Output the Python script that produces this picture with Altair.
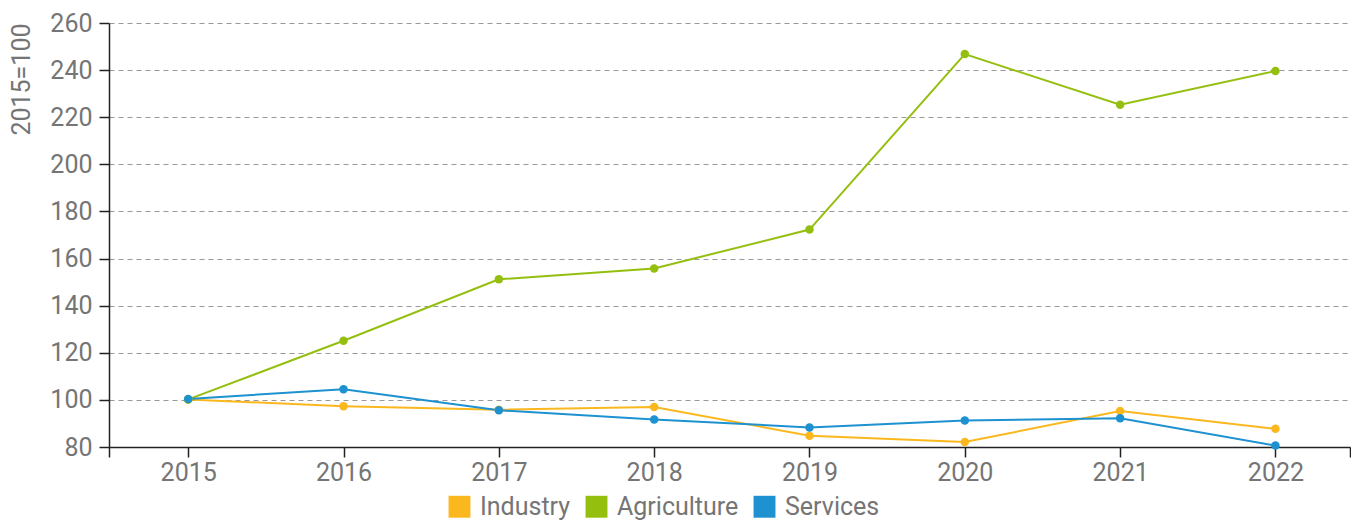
import altair as alt
import pandas as pd

years = [2015, 2016, 2017, 2018, 2019, 2020, 2021, 2022]
industry = [100.2, 97.3, 95.8, 97.0, 84.8, 82.1, 95.3, 87.7]
agriculture = [100.2, 125.1, 151.2, 155.8, 172.3, 246.8, 225.3, 239.6]
services = [100.4, 104.5, 95.6, 91.7, 88.3, 91.3, 92.2, 80.6]
series = ["Industry", "Agriculture", "Services"]
colors = ["#FBB81E", "#95BF0E", "#1E91D0"]
x_ends = [2014.49, 2022.48]
x_ticks = [x_ends[0]] + years + [x_ends[1]]
y_ticks = [80, 100, 120, 140, 160, 180, 200, 220, 240, 260]

rows = []
for name, vals in zip(series, [industry, agriculture, services]):
    for yr, v in zip(years, vals):
        rows.append({"year": yr, "value": v, "series": name, "order": series.index(name)})
df = pd.DataFrame(rows)

FONT = "Roboto"
GREY = "#757575"

chart = alt.Chart(df).mark_line(
    strokeWidth=2,
    point=alt.OverlayMarkDef(size=72, filled=True, opacity=1),
).encode(
    x=alt.X(
        "year:Q",
        scale=alt.Scale(domain=x_ends, nice=False, zero=False),
        axis=alt.Axis(
            values=x_ticks,
            labelExpr="datum.value % 1 == 0 ? datum.value : ''",
            title=None,
            grid=False,
            domainColor="#222",
            domainWidth=1.5,
            tickColor="#222",
            tickWidth=1.5,
            tickSize=10,
            labelFont=FONT,
            labelFontSize=25,
            labelColor=GREY,
            labelPadding=3,
        ),
    ),
    y=alt.Y(
        "value:Q",
        scale=alt.Scale(domain=[80, 260], nice=False, zero=False),
        axis=alt.Axis(
            values=y_ticks,
            title="2015=100",
            titleAnchor="end",
            titleFont=FONT,
            titleFontSize=25,
            titleFontWeight="normal",
            titleColor=GREY,
            titlePadding=15,
            grid=True,
            gridDash=[5, 4],
            gridColor="#999999",
            gridWidth=1.2,
            domainColor="#222",
            domainWidth=1.5,
            tickColor="#222",
            tickWidth=1.5,
            tickSize=10,
            labelFont=FONT,
            labelFontSize=25,
            labelColor=GREY,
            labelPadding=7,
        ),
    ),
    color=alt.Color(
        "series:N",
        scale=alt.Scale(domain=series, range=colors),
        legend=alt.Legend(
            title=None,
            orient="none",
            direction="horizontal",
            legendX=338,
            legendY=471,
            symbolType="square",
            symbolSize=480,
            symbolStrokeWidth=0,
            symbolOpacity=1,
            labelFont=FONT,
            labelFontSize=25,
            labelColor=GREY,
            labelOffset=8,
            columnPadding=13,
        ),
    ),
    order=alt.Order("order:Q"),
).properties(
    width=1241,
    height=424,
    padding={"left": 1, "top": 3, "right": 0, "bottom": 0},
).configure_view(stroke=None)

chart.save("out.html", embed_options={"renderer": "svg", "actions": False})
